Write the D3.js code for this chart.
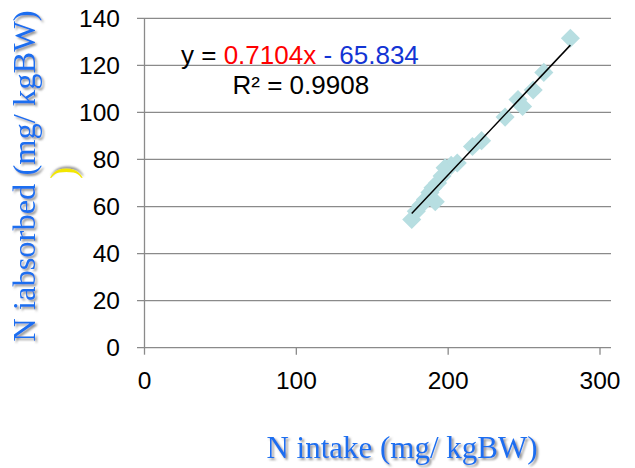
<!DOCTYPE html>
<html>
<head>
<meta charset="utf-8">
<script src="https://cdn.jsdelivr.net/npm/d3@7/dist/d3.min.js"></script>
<style>
  body { margin: 0; background: #fff; }
  svg { display: block; }
</style>
</head>
<body>
<svg id="chart" width="635" height="468"></svg>
<script>
// values
const nIntake   = [176, 179, 182, 185, 188, 191.5, 190, 193, 196, 198, 202, 206, 216, 222, 237.5, 246, 249, 256, 263, 280.5];
const nAbsorbed = [54.5, 58, 60.5, 63, 66, 62, 68, 70, 73, 76.5, 77.5, 78.5, 85.5, 88, 98, 105.5, 102.5, 109.5, 117, 131.5];
const xTicks = [0, 100, 200, 300];
const yTicks = [0, 20, 40, 60, 80, 100, 120, 140];
const slopeText = "0.7104x";
const interceptText = " - 65.834";
const r2Text = "R² = 0.9908";

const svg = d3.select("#chart");
const x = d3.scaleLinear().domain([0, 300]).range([144.5, 600]);
const y = d3.scaleLinear().domain([0, 140]).range([347.7, 18.3]);

const defs = svg.append("defs");
defs.append("filter").attr("id", "shadow")
  .attr("x", "-20%").attr("y", "-20%").attr("width", "140%").attr("height", "140%")
  .append("feDropShadow")
  .attr("dx", 2).attr("dy", 2).attr("stdDeviation", 1.2)
  .attr("flood-color", "#777").attr("flood-opacity", 0.8);
defs.append("filter").attr("id", "shadowUp")
  .attr("x", "-20%").attr("y", "-40%").attr("width", "140%").attr("height", "180%")
  .append("feDropShadow")
  .attr("dx", 1).attr("dy", -2).attr("stdDeviation", 1)
  .attr("flood-color", "#777").attr("flood-opacity", 0.8);

// gridlines
svg.append("g").selectAll("line").data(yTicks).enter().append("line")
  .attr("x1", 137).attr("x2", 611)
  .attr("y1", d => y(d)).attr("y2", d => y(d))
  .attr("stroke", "#8a8a8a").attr("stroke-width", 1.3);

// y axis line
svg.append("line")
  .attr("x1", x(0)).attr("x2", x(0)).attr("y1", y(140)).attr("y2", y(0))
  .attr("stroke", "#8a8a8a").attr("stroke-width", 1.3);

// x axis ticks
svg.append("g").selectAll("line").data(xTicks).enter().append("line")
  .attr("x1", d => x(d)).attr("x2", d => x(d))
  .attr("y1", y(0)).attr("y2", y(0) + 7)
  .attr("stroke", "#8a8a8a").attr("stroke-width", 1.3);

// tick labels
svg.append("g").selectAll("text").data(yTicks).enter().append("text")
  .attr("x", 120).attr("y", d => y(d) + 8.7)
  .attr("text-anchor", "end")
  .style("font", "24.5px 'Liberation Sans', Arial, sans-serif")
  .text(d => d);
svg.append("g").selectAll("text").data(xTicks).enter().append("text")
  .attr("x", d => x(d)).attr("y", 389)
  .attr("text-anchor", "middle")
  .style("font", "24.5px 'Liberation Sans', Arial, sans-serif")
  .text(d => d);

// points
const pts = nIntake.map((v, i) => [v, nAbsorbed[i]]);
svg.append("g").selectAll("rect").data(pts).enter().append("rect")
  .attr("width", 13.5).attr("height", 13.5)
  .attr("x", -6.75).attr("y", -6.75)
  .attr("transform", d => `translate(${x(d[0])},${y(d[1])}) rotate(45)`)
  .attr("fill", "#b7dee1");

// least squares trendline over the data range
const mx = d3.mean(nIntake), my = d3.mean(nAbsorbed);
const sxy = d3.sum(pts, d => (d[0] - mx) * (d[1] - my));
const sxx = d3.sum(pts, d => (d[0] - mx) * (d[0] - mx));
const b = sxy / sxx, a = my - b * mx;
const ext = d3.extent(nIntake);
svg.append("path")
  .attr("d", d3.line().x(d => x(d)).y(d => y(a + b * d))(ext))
  .attr("stroke", "#000").attr("stroke-width", 1.5).attr("fill", "none");

// equation
const eq = svg.append("text").attr("x", 181).attr("y", 64.3)
  .style("font", "26px 'Liberation Sans', Arial, sans-serif");
eq.append("tspan").attr("fill", "#000").text("y = ");
eq.append("tspan").attr("fill", "#ff0000").text(slopeText);
eq.append("tspan").attr("fill", "#1234d4").text(interceptText);
svg.append("text").attr("x", 232.5).attr("y", 94)
  .style("font", "26px 'Liberation Sans', Arial, sans-serif")
  .text(r2Text);

// axis titles
svg.append("g").attr("filter", "url(#shadow)")
  .append("text")
  .attr("x", 402).attr("y", 458)
  .attr("text-anchor", "middle")
  .attr("fill", "#1a6ef0")
  .style("font", "31px 'Liberation Serif', 'Times New Roman', serif")
  .text("N intake (mg/ kgBW)");
svg.append("g").attr("filter", "url(#shadow)")
  .append("text")
  .attr("transform", "translate(35,176) rotate(-90)")
  .attr("text-anchor", "middle")
  .attr("fill", "#1a6ef0")
  .style("font", "32.5px 'Liberation Serif', 'Times New Roman', serif")
  .text("N iabsorbed (mg/ kgBW)");

// stray yellow bracket
svg.append("g").attr("filter", "url(#shadowUp)")
  .append("text")
  .attr("transform", "translate(75,173) rotate(-90)")
  .attr("text-anchor", "middle")
  .attr("fill", "#f2e600")
  .style("font", "36px 'Liberation Serif', 'Times New Roman', serif")
  .text(")");
</script>
</body>
</html>
